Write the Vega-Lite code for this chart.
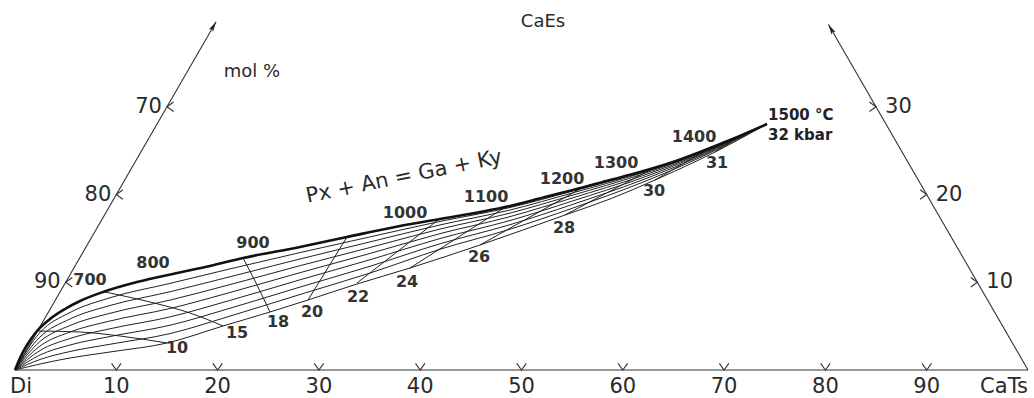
{
  "$schema": "https://vega.github.io/schema/vega-lite/v6.json",
  "width": 1034,
  "height": 398,
  "autosize": {"type": "fit", "contains": "padding"},
  "padding": 0,
  "background": "white",
  "config": {"view": {"stroke": null}, "font": "DejaVu Sans"},
  "datasets": {
    "edges": [
      {"id": "b", "u": 0, "v": 0}, {"id": "b", "u": 100, "v": 0},
      {"id": "l", "u": 0, "v": 0}, {"id": "l", "u": 19.85, "v": 34.38},
      {"id": "r", "u": 100, "v": 0}, {"id": "r", "u": 80.3, "v": 34.1}
    ],
    "tips": [
      {"side": "left", "u": 19.85, "v": 34.38},
      {"side": "right", "u": 80.3, "v": 34.1}
    ],
    "bticks": [
      {"u": 10, "v": 0, "label": "10"}, {"u": 20, "v": 0, "label": "20"}, {"u": 30, "v": 0, "label": "30"},
      {"u": 40, "v": 0, "label": "40"}, {"u": 50, "v": 0, "label": "50"}, {"u": 60, "v": 0, "label": "60"},
      {"u": 70, "v": 0, "label": "70"}, {"u": 80, "v": 0, "label": "80"}, {"u": 90, "v": 0, "label": "90"}
    ],
    "lticks": [
      {"u": 5, "v": 8.66, "label": "90"}, {"u": 10, "v": 17.321, "label": "80"}, {"u": 15, "v": 25.981, "label": "70"}
    ],
    "rticks": [
      {"u": 95, "v": 8.66, "label": "10"}, {"u": 90, "v": 17.321, "label": "20"}, {"u": 85, "v": 25.981, "label": "30"}
    ],
    "top": [
      {"u": 0, "v": 0}, {"u": 0.494, "v": 1.185}, {"u": 1.185, "v": 2.468}, {"u": 2.172, "v": 3.85},
      {"u": 3.455, "v": 5.035}, {"u": 4.936, "v": 6.022}, {"u": 6.417, "v": 6.811}, {"u": 8.687, "v": 7.7},
      {"u": 12.044, "v": 8.687}, {"u": 15.992, "v": 9.576}, {"u": 19.25, "v": 10.267}, {"u": 22.507, "v": 11.056},
      {"u": 28.134, "v": 12.142}, {"u": 32.774, "v": 13.129}, {"u": 38.006, "v": 14.215}, {"u": 41.955, "v": 14.906},
      {"u": 45.903, "v": 15.597}, {"u": 48.865, "v": 16.19}, {"u": 52.32, "v": 17.078}, {"u": 55.084, "v": 17.769},
      {"u": 58.737, "v": 18.756}, {"u": 61.698, "v": 19.546}, {"u": 64.956, "v": 20.533}, {"u": 67.621, "v": 21.52},
      {"u": 70.583, "v": 22.705}, {"u": 74.235, "v": 24.284}
    ],
    "thin": [
      {"id": "L0", "u": 0, "v": 0}, {"id": "L0", "u": 2.468, "v": 0.592}, {"id": "L0", "u": 5.429, "v": 1.185},
      {"id": "L0", "u": 9.378, "v": 1.777}, {"id": "L0", "u": 15.005, "v": 2.665}, {"id": "L0", "u": 20.533, "v": 4.344},
      {"id": "L0", "u": 25.173, "v": 5.726}, {"id": "L0", "u": 28.924, "v": 6.91}, {"id": "L0", "u": 33.761, "v": 8.49},
      {"id": "L0", "u": 38.993, "v": 10.069}, {"id": "L0", "u": 45.903, "v": 12.34}, {"id": "L0", "u": 54.294, "v": 15.301},
      {"id": "L0", "u": 58.737, "v": 16.881}, {"id": "L0", "u": 63.179, "v": 18.756}, {"id": "L0", "u": 69.102, "v": 21.52},
      {"id": "L0", "u": 74.235, "v": 24.284},

      {"id": "F1", "u": 0, "v": 0}, {"id": "F1", "u": 2.468, "v": 3.702}, {"id": "F1", "u": 5.429, "v": 5.676},
      {"id": "F1", "u": 9.378, "v": 7.132}, {"id": "F1", "u": 15.301, "v": 8.549}, {"id": "F1", "u": 21.224, "v": 9.98},
      {"id": "F1", "u": 28.134, "v": 11.59}, {"id": "F1", "u": 35.045, "v": 13.141}, {"id": "F1", "u": 41.955, "v": 14.668},
      {"id": "F1", "u": 48.865, "v": 16.039}, {"id": "F1", "u": 55.084, "v": 17.673}, {"id": "F1", "u": 61.698, "v": 19.497},
      {"id": "F1", "u": 67.621, "v": 21.5}, {"id": "F1", "u": 74.235, "v": 24.284},

      {"id": "F2", "u": 0, "v": 0}, {"id": "F2", "u": 2.468, "v": 3.258}, {"id": "F2", "u": 5.429, "v": 5.035},
      {"id": "F2", "u": 9.378, "v": 6.367}, {"id": "F2", "u": 15.301, "v": 7.725}, {"id": "F2", "u": 21.224, "v": 9.205},
      {"id": "F2", "u": 28.134, "v": 10.961}, {"id": "F2", "u": 35.045, "v": 12.645}, {"id": "F2", "u": 41.955, "v": 14.32},
      {"id": "F2", "u": 48.865, "v": 15.793}, {"id": "F2", "u": 55.084, "v": 17.497}, {"id": "F2", "u": 61.698, "v": 19.396},
      {"id": "F2", "u": 67.621, "v": 21.455}, {"id": "F2", "u": 74.235, "v": 24.284},

      {"id": "F3", "u": 0, "v": 0}, {"id": "F3", "u": 2.468, "v": 2.813}, {"id": "F3", "u": 5.429, "v": 4.393},
      {"id": "F3", "u": 9.378, "v": 5.602}, {"id": "F3", "u": 15.301, "v": 6.9}, {"id": "F3", "u": 21.224, "v": 8.43},
      {"id": "F3", "u": 28.134, "v": 10.296}, {"id": "F3", "u": 35.045, "v": 12.094}, {"id": "F3", "u": 41.955, "v": 13.913},
      {"id": "F3", "u": 48.865, "v": 15.49}, {"id": "F3", "u": 55.084, "v": 17.27}, {"id": "F3", "u": 61.698, "v": 19.259},
      {"id": "F3", "u": 67.621, "v": 21.39}, {"id": "F3", "u": 74.235, "v": 24.284},

      {"id": "F4", "u": 0, "v": 0}, {"id": "F4", "u": 2.468, "v": 2.369}, {"id": "F4", "u": 5.429, "v": 3.751},
      {"id": "F4", "u": 9.378, "v": 4.837}, {"id": "F4", "u": 15.301, "v": 6.071}, {"id": "F4", "u": 21.224, "v": 7.651},
      {"id": "F4", "u": 28.134, "v": 9.609}, {"id": "F4", "u": 35.045, "v": 11.504}, {"id": "F4", "u": 41.955, "v": 13.463},
      {"id": "F4", "u": 48.865, "v": 15.142}, {"id": "F4", "u": 55.084, "v": 17.001}, {"id": "F4", "u": 61.698, "v": 19.09},
      {"id": "F4", "u": 67.621, "v": 21.308}, {"id": "F4", "u": 74.235, "v": 24.284},

      {"id": "F5", "u": 0, "v": 0}, {"id": "F5", "u": 2.468, "v": 1.925}, {"id": "F5", "u": 5.429, "v": 3.11},
      {"id": "F5", "u": 9.378, "v": 4.072}, {"id": "F5", "u": 15.301, "v": 5.242}, {"id": "F5", "u": 21.224, "v": 6.871},
      {"id": "F5", "u": 28.134, "v": 8.904}, {"id": "F5", "u": 35.045, "v": 10.885}, {"id": "F5", "u": 41.955, "v": 12.977},
      {"id": "F5", "u": 48.865, "v": 14.758}, {"id": "F5", "u": 55.084, "v": 16.696}, {"id": "F5", "u": 61.698, "v": 18.894},
      {"id": "F5", "u": 67.621, "v": 21.209}, {"id": "F5", "u": 74.235, "v": 24.284},

      {"id": "F6", "u": 0, "v": 0}, {"id": "F6", "u": 2.468, "v": 1.481}, {"id": "F6", "u": 5.429, "v": 2.468},
      {"id": "F6", "u": 9.378, "v": 3.307}, {"id": "F6", "u": 15.301, "v": 4.418}, {"id": "F6", "u": 21.224, "v": 6.096},
      {"id": "F6", "u": 28.134, "v": 8.187}, {"id": "F6", "u": 35.045, "v": 10.24}, {"id": "F6", "u": 41.955, "v": 12.462},
      {"id": "F6", "u": 48.865, "v": 14.344}, {"id": "F6", "u": 55.084, "v": 16.359}, {"id": "F6", "u": 61.698, "v": 18.674},
      {"id": "F6", "u": 67.621, "v": 21.097}, {"id": "F6", "u": 74.235, "v": 24.284},

      {"id": "F7", "u": 0, "v": 0}, {"id": "F7", "u": 2.468, "v": 1.037}, {"id": "F7", "u": 5.429, "v": 1.826},
      {"id": "F7", "u": 9.378, "v": 2.542}, {"id": "F7", "u": 15.301, "v": 3.593}, {"id": "F7", "u": 21.224, "v": 5.321},
      {"id": "F7", "u": 28.134, "v": 7.454}, {"id": "F7", "u": 35.045, "v": 9.572}, {"id": "F7", "u": 41.955, "v": 11.919},
      {"id": "F7", "u": 48.865, "v": 13.898}, {"id": "F7", "u": 55.084, "v": 15.992}, {"id": "F7", "u": 61.698, "v": 18.429},
      {"id": "F7", "u": 67.621, "v": 20.969}, {"id": "F7", "u": 74.235, "v": 24.284},

      {"id": "P10", "u": 2.172, "v": 3.85}, {"id": "P10", "u": 6.417, "v": 3.751}, {"id": "P10", "u": 10.365, "v": 3.356}, {"id": "P10", "u": 15.005, "v": 2.665},
      {"id": "P15", "u": 8.885, "v": 7.7}, {"id": "P15", "u": 13.327, "v": 6.713}, {"id": "P15", "u": 17.276, "v": 5.627}, {"id": "P15", "u": 20.533, "v": 4.344},
      {"id": "P18", "u": 22.507, "v": 11.056}, {"id": "P18", "u": 23.495, "v": 9.18}, {"id": "P18", "u": 25.173, "v": 5.726},
      {"id": "P20", "u": 32.774, "v": 13.129}, {"id": "P20", "u": 28.924, "v": 6.91},
      {"id": "P22", "u": 41.757, "v": 14.808}, {"id": "P22", "u": 33.761, "v": 8.589},
      {"id": "P24", "u": 48.569, "v": 16.19}, {"id": "P24", "u": 38.993, "v": 10.069},
      {"id": "P26", "u": 55.775, "v": 17.868}, {"id": "P26", "u": 45.903, "v": 12.34},
      {"id": "P28", "u": 62.686, "v": 19.743}, {"id": "P28", "u": 54.294, "v": 15.301},
      {"id": "P30", "u": 68.609, "v": 21.915}, {"id": "P30", "u": 63.179, "v": 18.756},
      {"id": "P31", "u": 71.767, "v": 23.199}, {"id": "P31", "u": 69.102, "v": 21.52}
    ],
    "tlabels": [
      {"label": "700", "u": 7.404, "v": 8.885}, {"label": "800", "u": 13.623, "v": 10.563},
      {"label": "900", "u": 23.495, "v": 12.537}, {"label": "1000", "u": 38.5, "v": 15.499},
      {"label": "1100", "u": 46.496, "v": 17.078}, {"label": "1200", "u": 53.998, "v": 18.855},
      {"label": "1300", "u": 59.329, "v": 20.434}, {"label": "1400", "u": 67.029, "v": 23.001}
    ],
    "plabels": [
      {"label": "10", "u": 15.992, "v": 2.172}, {"label": "15", "u": 21.915, "v": 3.652},
      {"label": "18", "u": 25.963, "v": 4.738}, {"label": "20", "u": 29.319, "v": 5.726},
      {"label": "22", "u": 33.86, "v": 7.206}, {"label": "24", "u": 38.697, "v": 8.687},
      {"label": "26", "u": 45.805, "v": 11.155}, {"label": "28", "u": 54.196, "v": 14.018},
      {"label": "30", "u": 63.08, "v": 17.67}, {"label": "31", "u": 69.299, "v": 20.434}
    ],
    "endlabels": [
      {"label": "1500 °C", "u": 74.334, "v": 25.173},
      {"label": "32 kbar", "u": 74.334, "v": 23.199}
    ],
    "corners": [
      {"label": "Di", "u": 0.592, "v": -1.678},
      {"label": "CaTs", "u": 97.631, "v": -1.678}
    ],
    "titles": [
      {"label": "CaEs", "u": 52.123, "v": 34.354},
      {"label": "mol %", "u": 23.396, "v": 29.418}
    ],
    "reaction": [
      {"label": "Px + An = Ga + Ky", "u": 38.401, "v": 19.052}
    ]
  },
  "encoding": {
    "x": {"field": "u", "type": "quantitative", "scale": {"domain": [-1.481, 100.59], "nice": false, "zero": false}, "axis": null},
    "y": {"field": "v", "type": "quantitative", "scale": {"domain": [-2.764, 36.525], "nice": false, "zero": false}, "axis": null}
  },
  "layer": [
    {
      "data": {"name": "edges"},
      "mark": {"type": "line", "color": "#333", "strokeWidth": 1.1},
      "encoding": {"detail": {"field": "id"}}
    },
    {
      "data": {"name": "tips"},
      "transform": [{"filter": "datum.side == 'left'"}],
      "mark": {"type": "point", "shape": "M0,0L0.6,2.6L0,2L-0.6,2.6Z", "filled": true, "color": "#222", "opacity": 1, "size": 64, "angle": 30}
    },
    {
      "data": {"name": "tips"},
      "transform": [{"filter": "datum.side == 'right'"}],
      "mark": {"type": "point", "shape": "M0,0L0.6,2.6L0,2L-0.6,2.6Z", "filled": true, "color": "#222", "opacity": 1, "size": 64, "angle": -30}
    },
    {
      "data": {"name": "bticks"},
      "mark": {"type": "point", "shape": "M-1,-1.4L0,0L1,-1.4", "filled": false, "color": "#333", "opacity": 1, "size": 90, "strokeWidth": 1.1}
    },
    {
      "data": {"name": "bticks"},
      "mark": {"type": "text", "fontSize": 21, "dy": 17, "baseline": "middle", "color": "#2a2a2a"},
      "encoding": {"text": {"field": "label"}}
    },
    {
      "data": {"name": "lticks"},
      "mark": {"type": "point", "shape": "M1.4,-1L0,0L1.4,1", "filled": false, "color": "#333", "opacity": 1, "size": 90, "strokeWidth": 1.1}
    },
    {
      "data": {"name": "lticks"},
      "mark": {"type": "text", "fontSize": 21, "align": "right", "dx": -5, "baseline": "middle", "color": "#2a2a2a"},
      "encoding": {"text": {"field": "label"}}
    },
    {
      "data": {"name": "rticks"},
      "mark": {"type": "point", "shape": "M-1.4,-1L0,0L-1.4,1", "filled": false, "color": "#333", "opacity": 1, "size": 90, "strokeWidth": 1.1}
    },
    {
      "data": {"name": "rticks"},
      "mark": {"type": "text", "fontSize": 21, "align": "left", "dx": 9, "baseline": "middle", "color": "#2a2a2a"},
      "encoding": {"text": {"field": "label"}}
    },
    {
      "data": {"name": "thin"},
      "mark": {"type": "line", "color": "#222", "strokeWidth": 1, "interpolate": "monotone"},
      "encoding": {"detail": {"field": "id"}}
    },
    {
      "data": {"name": "top"},
      "mark": {"type": "line", "color": "#111", "strokeWidth": 2.6, "interpolate": "monotone"},
      "encoding": {}
    },
    {
      "data": {"name": "tlabels"},
      "mark": {"type": "text", "fontSize": 16, "fontWeight": "bold", "baseline": "middle", "color": "#333"},
      "encoding": {"text": {"field": "label"}}
    },
    {
      "data": {"name": "plabels"},
      "mark": {"type": "text", "fontSize": 16, "fontWeight": "bold", "baseline": "middle", "color": "#333"},
      "encoding": {"text": {"field": "label"}}
    },
    {
      "data": {"name": "endlabels"},
      "mark": {"type": "text", "fontSize": 15, "fontWeight": "bold", "align": "left", "baseline": "middle", "color": "#222"},
      "encoding": {"text": {"field": "label"}}
    },
    {
      "data": {"name": "corners"},
      "mark": {"type": "text", "fontSize": 21, "baseline": "middle", "color": "#2a2a2a"},
      "encoding": {"text": {"field": "label"}}
    },
    {
      "data": {"name": "titles"},
      "mark": {"type": "text", "fontSize": 18, "baseline": "middle", "color": "#2a2a2a"},
      "encoding": {"text": {"field": "label"}}
    },
    {
      "data": {"name": "reaction"},
      "mark": {"type": "text", "fontSize": 21, "angle": -11.5, "baseline": "middle", "color": "#2a2a2a"},
      "encoding": {"text": {"field": "label"}}
    }
  ]
}
